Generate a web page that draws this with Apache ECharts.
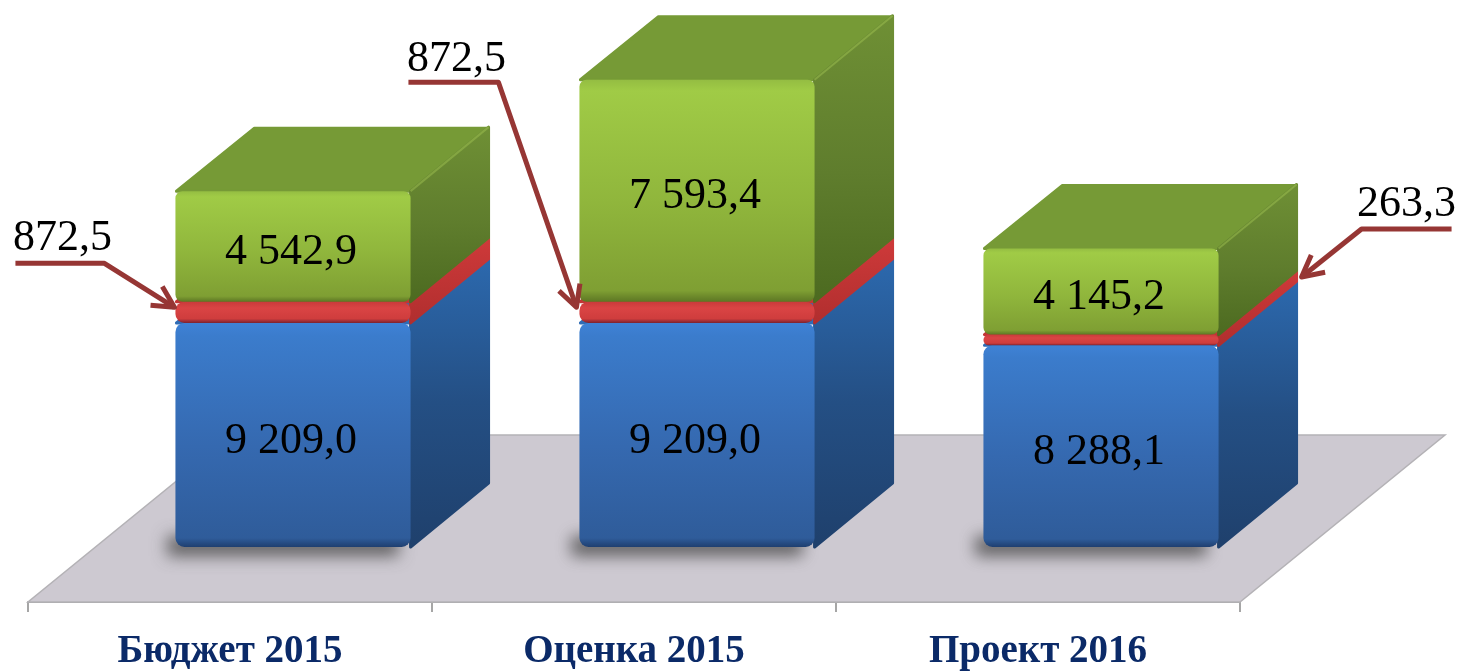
<!DOCTYPE html>
<html>
<head>
<meta charset="utf-8">
<style>
  html, body { margin: 0; padding: 0; background: #fff; }
  #chart { width: 1462px; height: 671px; }
</style>
<script src="https://cdn.jsdelivr.net/npm/echarts@6/dist/echarts.min.js"></script>
</head>
<body>
<div id="chart"></div>
<script>
//categories
const categories = ["Бюджет 2015", "Оценка 2015", "Проект 2016"];

//block heights (the source draws some blocks out of step with their printed value)
const blueValues = [9209, 9209, 8288.1];
const redValues = [872.5, 872.5, 440];
const greenValues = [4542.9, 9120, 3540];

//printed values
const blueLabels = ["9 209,0", "9 209,0", "8 288,1"];
const greenLabels = ["4 542,9", "7 593,4", "4 145,2"];
const calloutLabels = ["872,5", "872,5", "263,3"];

//3d look: depth of a block, and where a block stands on the floor
const depth = { x: 78, y: -64 };
const floorDepth = { x: 205, y: -167 };
const standOn = { x: 63, y: -55 };
const barRatio = 0.582;

//callout shapes, relative to the arrow tip
const callouts = [
    { tip: [-1, -5], elbow: [-70, -44], start: [-159, -44], text: [-112, -69] },
    { tip: [-3, -5], elbow: [-78, -225], start: [-168, -225], text: [-120, -248] },
    { tip: [5, 1], elbow: [60, -48], start: [150, -48], text: [105, -73] }
];

const vGrad = (stops) => ({
    type: "linear", x: 0, y: 0, x2: 0, y2: 1,
    colorStops: stops.map(s => ({ offset: s[0], color: s[1] }))
});

const blueStyle = {
    front: vGrad([[0, "#3f82d6"], [0.06, "#3b7ccc"], [0.55, "#3569b0"], [0.96, "#2f5c9a"], [1, "#1f3f70"]]),
    top: "#2f6cb5",
    side: vGrad([[0, "#2c69ae"], [0.5, "#244f84"], [1, "#1f406c"]]),
    r: 9
};
const redStyle = {
    front: vGrad([[0, "#c93a3a"], [0.3, "#da4444"], [0.8, "#cf3d3d"], [1, "#7c2330"]]),
    top: "#c23535",
    side: vGrad([[0, "#cf3a3a"], [1, "#b02e2e"]]),
    r: 9
};
const greenStyle = {
    front: vGrad([[0, "#94bd42"], [0.05, "#a0cb46"], [0.55, "#90b63c"], [0.95, "#7f9f33"], [1, "#5d7724"]]),
    top: "#769a36",
    side: vGrad([[0, "#6f9035"], [0.55, "#5f7d2d"], [1, "#4c6a20"]]),
    ridge: "rgba(165,200,85,0.45)",
    r: 7
};

function bottomOf(series, i) {
    return series.reduce((acc, s) => acc + s[i], 0);
}

//one layer of the stack: side, top, front and optional label
function layerSeries(values, below, look, labels, shadow) {
    return {
        type: "custom",
        clip: false,
        data: values.map((v, i) => [i, bottomOf(below, i), bottomOf(below, i) + v]),
        encode: { x: 0, y: [1, 2] },
        renderItem: (params, api) => {
            const i = params.dataIndex;
            const low = api.coord([api.value(0), api.value(1)]);
            const high = api.coord([api.value(0), api.value(2)]);
            const band = api.size([1, 0])[0];
            const w = band * barRatio;
            const x0 = low[0] + standOn.x - w / 2;
            const x1 = x0 + w;
            const y0 = high[1] + standOn.y;
            const y1 = low[1] + standOn.y;
            const sidePts = [[x1, y0], [x1 + depth.x, y0 + depth.y], [x1 + depth.x, y1 + depth.y], [x1, y1]];
            const topPts = [[x0 + 1, y0], [x0 + depth.x + 1, y0 + depth.y + 1], [x1 + depth.x - 1, y0 + depth.y + 1], [x1, y0]];
            const children = [];
            if (shadow) {
                //soft shadow at the foot of the block, the rect itself stays hidden behind the front
                children.push({
                    type: "rect",
                    shape: { x: x0 + 2, y: y1 - 24, width: w - 4, height: 20 },
                    style: { fill: "#777", shadowBlur: 16, shadowColor: "rgba(70,70,70,0.8)", shadowOffsetX: -10, shadowOffsetY: 13 }
                });
            }
            children.push(
                { type: "polygon", shape: { points: topPts }, style: { fill: look.top, stroke: look.top, lineWidth: 3, lineJoin: "round" } },
                { type: "polygon", shape: { points: sidePts }, style: { fill: look.side, stroke: look.side, lineWidth: 3, lineJoin: "round" } }
            );
            if (look.ridge) {
                children.push({
                    type: "line",
                    shape: { x1: x1, y1: y0, x2: x1 + depth.x, y2: y0 + depth.y },
                    style: { stroke: look.ridge, lineWidth: 2 }
                });
            }
            children.push({
                type: "rect",
                shape: { x: x0, y: y0, width: w, height: y1 - y0, r: Math.min(look.r, (y1 - y0) / 2) },
                style: { fill: look.front }
            });
            if (labels) {
                children.push({
                    type: "text",
                    style: {
                        x: (x0 + x1) / 2 - 2, y: (y0 + y1) / 2 + 6, text: labels[i],
                        font: '44px "Liberation Serif"', fill: "#000", align: "center", verticalAlign: "middle"
                    }
                });
            }
            return { type: "group", children: children };
        }
    };
}

//grey floor, spanning the whole x axis
const floorSeries = {
    type: "custom",
    silent: true,
    clip: false,
    data: [[0, 0]],
    renderItem: (params, api) => {
        const a = api.coord([0, 0]);
        const b = api.coord([categories.length - 1, 0]);
        const band = api.size([1, 0])[0];
        const left = a[0] - band / 2;
        const right = b[0] + band / 2;
        const pts = [[left, a[1]], [right, a[1]], [right + floorDepth.x, a[1] + floorDepth.y], [left + floorDepth.x, a[1] + floorDepth.y]];
        return {
            type: "polygon",
            shape: { points: pts },
            style: { fill: "#cdc9d1", stroke: "#b4b2b6", lineWidth: 1.5 }
        };
    }
};

//arrow + underlined value next to the red block
const calloutSeries = {
    type: "custom",
    silent: true,
    clip: false,
    z: 10,
    data: categories.map((c, i) => [i, blueValues[i], blueValues[i] + redValues[i]]),
    renderItem: (params, api) => {
        const i = params.dataIndex;
        const c = callouts[i];
        const band = api.size([1, 0])[0];
        const w = band * barRatio;
        const low = api.coord([api.value(0), api.value(1)]);
        const high = api.coord([api.value(0), api.value(2)]);
        const midY = (low[1] + high[1]) / 2 + standOn.y;
        //first two point at the left end of the front, the last at the back right corner
        const anchor = i < 2
            ? [low[0] + standOn.x - w / 2, midY]
            : [low[0] + standOn.x + w / 2 + depth.x, midY + depth.y];
        const tip = [anchor[0] + c.tip[0], anchor[1] + c.tip[1]];
        const at = (o) => [tip[0] + o[0], tip[1] + o[1]];
        const elbow = at(c.elbow);
        const ang = Math.atan2(elbow[1] - tip[1], elbow[0] - tip[0]);
        const barb = (d) => [tip[0] + 24 * Math.cos(ang + d), tip[1] + 24 * Math.sin(ang + d)];
        const line = { stroke: "#963634", lineWidth: 5, fill: null, lineJoin: "round" };
        const textPos = at(c.text);
        return {
            type: "group",
            children: [
                { type: "polyline", shape: { points: [at(c.start), elbow, tip] }, style: line },
                { type: "polyline", shape: { points: [barb(0.48), tip, barb(-0.48)] }, style: line },
                {
                    type: "text",
                    style: {
                        x: textPos[0], y: textPos[1], text: calloutLabels[i],
                        font: '44px "Liberation Serif"', fill: "#000", align: "center", verticalAlign: "middle"
                    }
                }
            ]
        };
    }
};

const chart = echarts.init(document.getElementById("chart"));
chart.setOption({
    animation: false,
    backgroundColor: "#fff",
    grid: { left: 28, right: 222, top: 0, bottom: 68 },
    xAxis: {
        type: "category",
        data: categories,
        axisLine: { lineStyle: { color: "#a6a6a6", width: 2 } },
        axisTick: { show: true, length: 10, lineStyle: { color: "#a6a6a6", width: 2 } },
        axisLabel: {
            margin: 30,
            interval: 0,
            fontFamily: "Liberation Serif",
            fontWeight: "bold",
            fontSize: 39,
            color: "#0b2a68"
        }
    },
    yAxis: { type: "value", min: 0, max: 24740, show: false },
    series: [
        floorSeries,
        layerSeries(blueValues, [], blueStyle, blueLabels, true),
        layerSeries(redValues, [blueValues], redStyle, null, false),
        layerSeries(greenValues, [blueValues, redValues], greenStyle, greenLabels, false),
        calloutSeries
    ]
});
</script>
</body>
</html>
